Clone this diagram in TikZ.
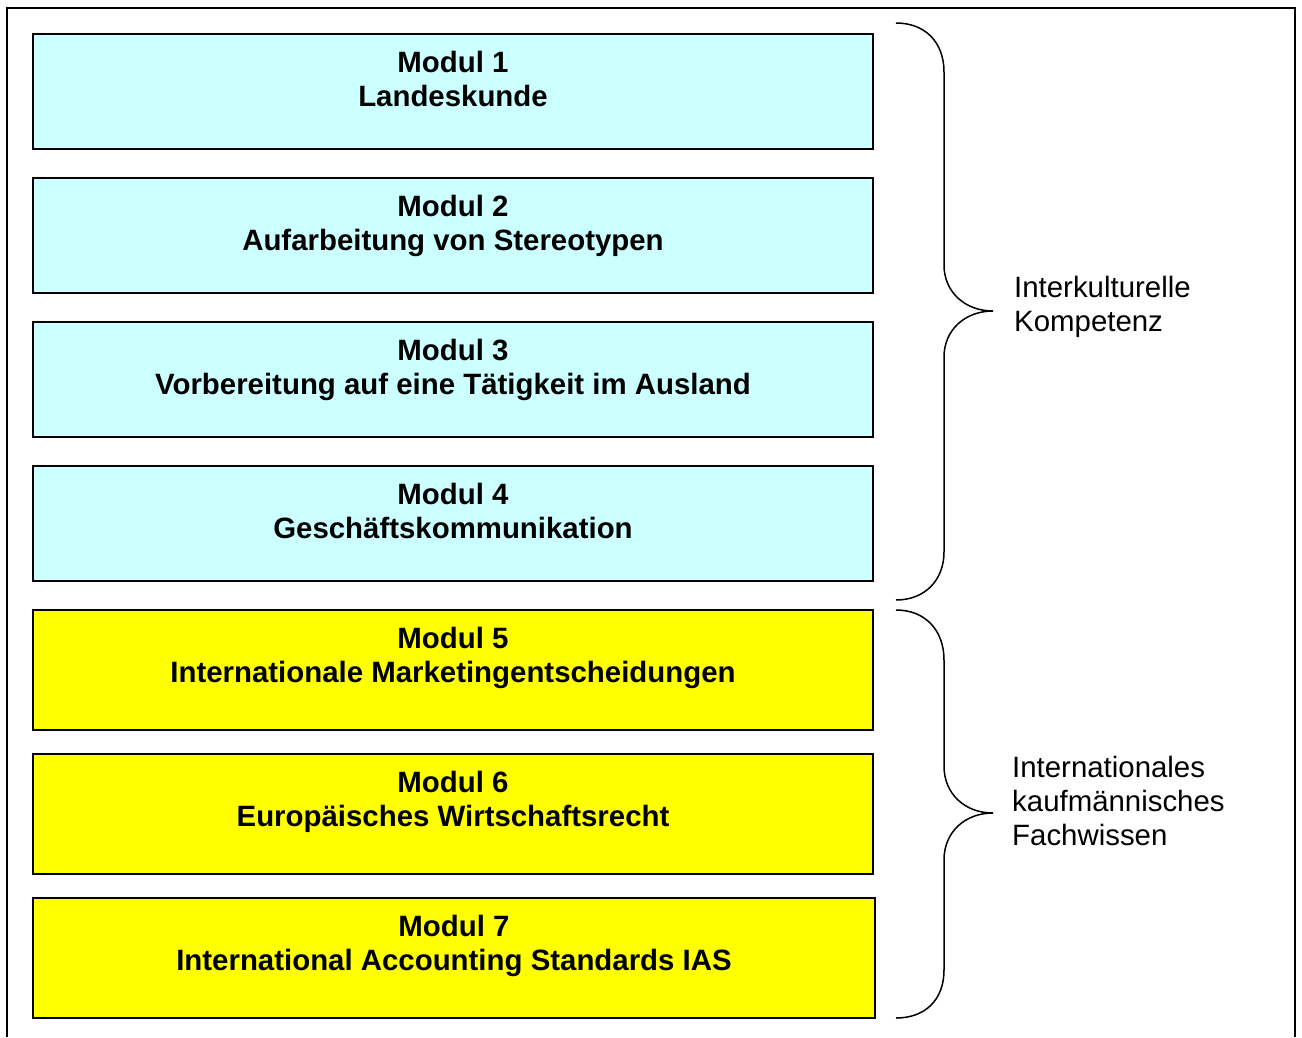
\documentclass[tikz,border=0pt]{standalone}
\usepackage{fontspec}
\setmainfont{Liberation Sans}
\usetikzlibrary{positioning}
\definecolor{kultur}{HTML}{CCFFFF}
\definecolor{fach}{HTML}{FFFF00}
\tikzset{
  modbox/.style={draw=black,line width=1.6pt,minimum width=840pt,inner sep=0pt},
  modtext/.style={inner sep=0pt,align=center,font=\fontsize{29.4}{34}\selectfont\bfseries},
  sidetext/.style={inner sep=0pt,align=left,anchor=west,font=\fontsize{29.4}{34}\selectfont},
  brace/.style={line width=1.5pt}
}
\begin{document}
\begin{tikzpicture}[x=1pt,y=-1pt]
\useasboundingbox (0,0) rectangle (1302,1037);
\draw[line width=1.6pt](7,1037)--(7,8)--(1295,8)--(1295,1037);
			\node[modbox,fill=kultur,minimum height=115pt](m1) at (453,91.5){};
			\node[modbox,fill=kultur,minimum height=115pt](m2) at (453,235.5){};
			\node[modbox,fill=kultur,minimum height=115pt](m3) at (453,379.5){};
			\node[modbox,fill=kultur,minimum height=115pt](m4) at (453,523.5){};
			\node[modbox,fill=fach,minimum height=120pt](m5) at (453,670){};
			\node[modbox,fill=fach,minimum height=120pt](m6) at (453,814){};
			\node[modbox,fill=fach,minimum height=120pt,minimum width=842pt](m7) at (454,958){};
			\node[modtext,below=18pt of m1.north](t1){Modul 1\\Landeskunde};
			\node[modtext,below=18pt of m2.north](t2){Modul 2\\Aufarbeitung von Stereotypen};
			\node[modtext,below=18pt of m3.north](t3){Modul 3\\Vorbereitung auf eine Tätigkeit im Ausland};
			\node[modtext,below=18pt of m4.north](t4){Modul 4\\Geschäftskommunikation};
			\node[modtext,below=18pt of m5.north](t5){Modul 5\\Internationale Marketingentscheidungen};
			\node[modtext,below=18pt of m6.north](t6){Modul 6\\Europäisches Wirtschaftsrecht};
			\node[modtext,below=18pt of m7.north](t7){Modul 7\\International Accounting Standards IAS};
			\node[sidetext](k1) at (1014,307){Interkulturelle\\Kompetenz};
			\node[sidetext](k2) at (1012,801){Internationales\\kaufmännisches\\Fachwissen};
			% braces
			\draw[brace](896,23) .. controls (925,23) and (944,42) .. (944,72)
			  -- (944,265) .. controls (944,292) and (965,311) .. (993,311)
			  .. controls (965,311) and (944,330) .. (944,357)
			  -- (944,552) .. controls (944,580) and (925,600) .. (896,600);
			\draw[brace](896,610) .. controls (925,610) and (944,630) .. (944,660)
			  -- (944,766) .. controls (944,794) and (965,813) .. (993,813)
			  .. controls (965,813) and (944,832) .. (944,860)
			  -- (944,970) .. controls (944,1000) and (925,1018) .. (896,1018);
\end{tikzpicture}
\end{document}
